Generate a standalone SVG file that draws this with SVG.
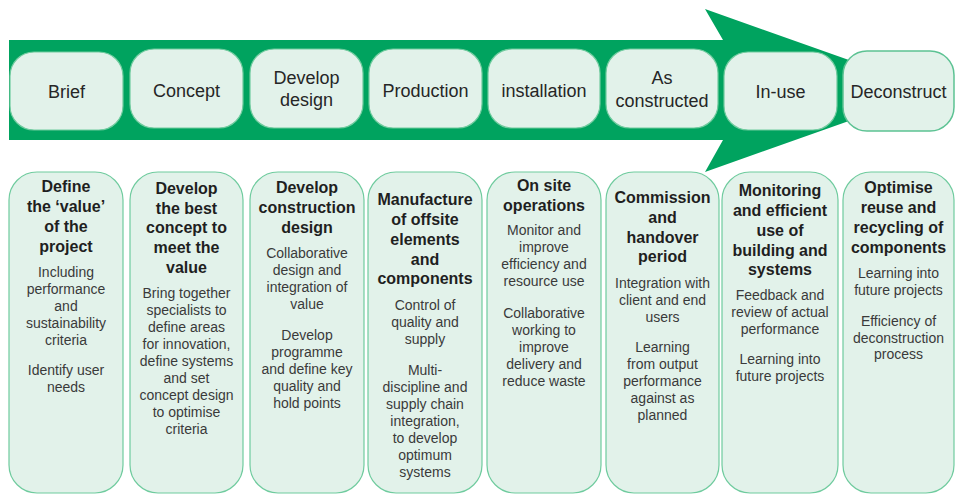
<svg xmlns="http://www.w3.org/2000/svg" width="955" height="494" viewBox="0 0 955 494">
<style>
.box{fill:#e2f2ea;stroke:#6fcb9e;stroke-width:1.2}
.lbl{font-family:"Liberation Sans",Arial,sans-serif;font-size:18px;fill:#262626;text-anchor:middle}
.hd{font-family:"Liberation Sans",Arial,sans-serif;font-size:16px;font-weight:bold;fill:#1f1f1f;text-anchor:middle}
.bd{font-family:"Liberation Sans",Arial,sans-serif;font-size:14px;fill:#3a3a3a;text-anchor:middle}
</style>
<rect width="955" height="494" fill="#ffffff"/>
<g id="connectors">
<path d="M9,40 H723 L705,9 L935,90.5 L705,172 L723,140 H9 Z" fill="#00a35f"/>
</g>
<g id="stage-brief"><rect class="box" x="10" y="52" width="113" height="78" rx="24"/><text class="lbl" x="66.5" y="98">Brief</text></g>
<g id="stage-concept"><rect class="box" x="130" y="49" width="113" height="79" rx="24"/><text class="lbl" x="186.5" y="97">Concept</text></g>
<g id="stage-develop-design"><rect class="box" x="250" y="49" width="113" height="79" rx="24"/><text class="lbl" x="306.5" y="84">Develop</text><text class="lbl" x="306.5" y="106">design</text></g>
<g id="stage-production"><rect class="box" x="369" y="49" width="113" height="79" rx="24"/><text class="lbl" x="425.5" y="97">Production</text></g>
<g id="stage-installation"><rect class="box" x="488" y="49" width="112" height="79" rx="24"/><text class="lbl" x="544" y="97">installation</text></g>
<g id="stage-as-constructed"><rect class="box" x="606" y="49" width="112" height="79" rx="24"/><text class="lbl" x="662" y="84">As</text><text class="lbl" x="662" y="107">constructed</text></g>
<g id="stage-in-use"><rect class="box" x="724" y="52" width="113" height="78" rx="24"/><text class="lbl" x="780.5" y="98">In-use</text></g>
<g id="stage-deconstruct"><rect class="box" x="843" y="51" width="111" height="80" rx="24" style="stroke:#5cc293;stroke-width:1.5"/><text class="lbl" x="898.5" y="98">Deconstruct</text></g>

<g id="col-brief"><rect class="box" x="9" y="172" width="114" height="321" rx="28"/>
<text class="hd"><tspan x="66" y="192">Define</tspan><tspan x="66" y="212">the ‘value’</tspan><tspan x="66" y="232">of the</tspan><tspan x="66" y="252">project</tspan></text>
<text class="bd"><tspan x="66" y="277">Including</tspan><tspan x="66" y="294">performance</tspan><tspan x="66" y="311">and</tspan><tspan x="66" y="328">sustainability</tspan><tspan x="66" y="345">criteria</tspan><tspan x="66" y="375">Identify user</tspan><tspan x="66" y="392">needs</tspan></text></g>

<g id="col-concept"><rect class="box" x="130" y="172" width="113" height="321" rx="28"/>
<text class="hd"><tspan x="186.5" y="194">Develop</tspan><tspan x="186.5" y="214">the best</tspan><tspan x="186.5" y="233">concept to</tspan><tspan x="186.5" y="253">meet the</tspan><tspan x="186.5" y="273">value</tspan></text>
<text class="bd"><tspan x="186.5" y="298">Bring together</tspan><tspan x="186.5" y="315">specialists to</tspan><tspan x="186.5" y="332">define areas</tspan><tspan x="186.5" y="349">for innovation,</tspan><tspan x="186.5" y="366">define systems</tspan><tspan x="186.5" y="383">and set</tspan><tspan x="186.5" y="400">concept design</tspan><tspan x="186.5" y="417">to optimise</tspan><tspan x="186.5" y="434">criteria</tspan></text></g>

<g id="col-develop-design"><rect class="box" x="250" y="172" width="114" height="321" rx="28"/>
<text class="hd"><tspan x="307" y="193">Develop</tspan><tspan x="307" y="213">construction</tspan><tspan x="307" y="233">design</tspan></text>
<text class="bd"><tspan x="307" y="258">Collaborative</tspan><tspan x="307" y="275">design and</tspan><tspan x="307" y="292">integration of</tspan><tspan x="307" y="309">value</tspan><tspan x="307" y="340">Develop</tspan><tspan x="307" y="357">programme</tspan><tspan x="307" y="374">and define key</tspan><tspan x="307" y="391">quality and</tspan><tspan x="307" y="408">hold points</tspan></text></g>

<g id="col-production"><rect class="box" x="368" y="172" width="114" height="321" rx="28"/>
<text class="hd"><tspan x="425" y="205">Manufacture</tspan><tspan x="425" y="225">of offsite</tspan><tspan x="425" y="245">elements</tspan><tspan x="425" y="265">and</tspan><tspan x="425" y="284">components</tspan></text>
<text class="bd"><tspan x="425" y="310">Control of</tspan><tspan x="425" y="327">quality and</tspan><tspan x="425" y="344">supply</tspan><tspan x="425" y="375">Multi-</tspan><tspan x="425" y="392">discipline and</tspan><tspan x="425" y="409">supply chain</tspan><tspan x="425" y="426">integration,</tspan><tspan x="425" y="443">to develop</tspan><tspan x="425" y="460">optimum</tspan><tspan x="425" y="477">systems</tspan></text></g>

<g id="col-installation"><rect class="box" x="487" y="172" width="114" height="321" rx="28"/>
<text class="hd"><tspan x="544" y="191">On site</tspan><tspan x="544" y="211">operations</tspan></text>
<text class="bd"><tspan x="544" y="235">Monitor and</tspan><tspan x="544" y="252">improve</tspan><tspan x="544" y="269">efficiency and</tspan><tspan x="544" y="286">resource use</tspan><tspan x="544" y="318">Collaborative</tspan><tspan x="544" y="335">working to</tspan><tspan x="544" y="352">improve</tspan><tspan x="544" y="369">delivery and</tspan><tspan x="544" y="386">reduce waste</tspan></text></g>

<g id="col-as-constructed"><rect class="box" x="606" y="172" width="113" height="321" rx="28"/>
<text class="hd"><tspan x="662.5" y="203">Commission</tspan><tspan x="662.5" y="223">and</tspan><tspan x="662.5" y="243">handover</tspan><tspan x="662.5" y="262">period</tspan></text>
<text class="bd"><tspan x="662.5" y="288">Integration with</tspan><tspan x="662.5" y="305">client and end</tspan><tspan x="662.5" y="322">users</tspan><tspan x="662.5" y="352">Learning</tspan><tspan x="662.5" y="369">from output</tspan><tspan x="662.5" y="386">performance</tspan><tspan x="662.5" y="403">against as</tspan><tspan x="662.5" y="420">planned</tspan></text></g>

<g id="col-in-use"><rect class="box" x="722" y="172" width="116" height="321" rx="28"/>
<text class="hd"><tspan x="780" y="196">Monitoring</tspan><tspan x="780" y="216">and efficient</tspan><tspan x="780" y="236">use of</tspan><tspan x="780" y="256">building and</tspan><tspan x="780" y="275">systems</tspan></text>
<text class="bd"><tspan x="780" y="300">Feedback and</tspan><tspan x="780" y="317">review of actual</tspan><tspan x="780" y="334">performance</tspan><tspan x="780" y="364">Learning into</tspan><tspan x="780" y="381">future projects</tspan></text></g>

<g id="col-deconstruct"><rect class="box" x="843" y="172" width="111" height="321" rx="28"/>
<text class="hd"><tspan x="898.5" y="193">Optimise</tspan><tspan x="898.5" y="213">reuse and</tspan><tspan x="898.5" y="233">recycling of</tspan><tspan x="898.5" y="253">components</tspan></text>
<text class="bd"><tspan x="898.5" y="278">Learning into</tspan><tspan x="898.5" y="295">future projects</tspan><tspan x="898.5" y="326">Efficiency of</tspan><tspan x="898.5" y="343">deconstruction</tspan><tspan x="898.5" y="359">process</tspan></text></g>
</svg>
